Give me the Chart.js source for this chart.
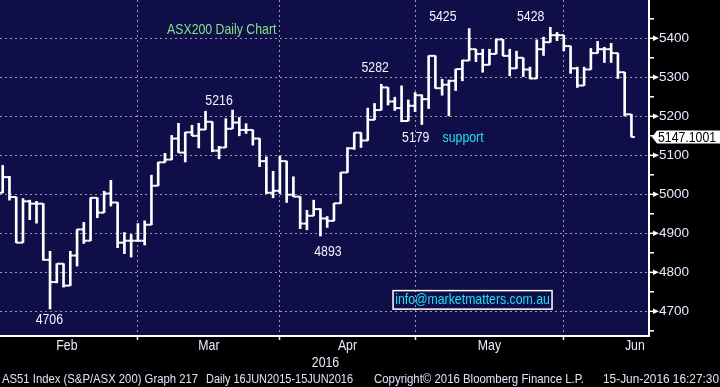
<!DOCTYPE html>
<html lang="en">
<head>
<meta charset="UTF-8">
<title>ASX200 Daily Chart</title>
<script src="https://cdn.jsdelivr.net/npm/chart.js"></script>
<style>
    html, body { margin: 0; padding: 0; background: #000; }
    canvas { display: block; }
</style>
</head>
<body>
<canvas id="chartContainer" width="720" height="387"></canvas>

<script>
// AS51 daily bars, Feb - 15 Jun 2016
var opens = [5004, 5044, 4993, 4876, 4982, 4976, 4976, 4832, 4775, 4822,
             4766, 4843, 4910, 4881, 4991, 4953, 5002, 4979, 4876, 4881,
             4881, 4881, 4922, 5022, 5082, 5089, 5143, 5107, 5159, 5150,
             5166, 5186, 5112, 5120, 5168, 5184, 5165, 5165, 5143, 5085,
             5004, 5009, 5085, 4999, 4994, 4925, 4945, 4962, 4938, 4932,
             4977, 5056, 5118, 5158, 5138, 5191, 5216, 5274, 5238, 5221,
             5188, 5227, 5254, 5244, 5355, 5272, 5281, 5291, 5321, 5343,
             5372, 5360, 5332, 5360, 5397, 5355, 5323, 5350, 5320, 5297,
             5372, 5390, 5408, 5408, 5380, 5323, 5279, 5320, 5362, 5372,
             5372, 5362, 5313, 5205];
var highs = [5074, 5046, 4993, 4989, 4985, 4982, 4976, 4854, 4822, 4822,
             4854, 4910, 4928, 4991, 4991, 5008, 5036, 4979, 4902, 4897,
             4925, 4932, 5049, 5082, 5105, 5151, 5182, 5159, 5177, 5182,
             5213, 5186, 5123, 5194, 5216, 5197, 5181, 5165, 5143, 5096,
             5059, 5097, 5085, 5045, 4994, 4959, 4985, 4963, 4943, 4977,
             5056, 5120, 5158, 5158, 5221, 5233, 5282, 5274, 5249, 5278,
             5242, 5261, 5255, 5355, 5355, 5295, 5293, 5321, 5344, 5425,
             5372, 5372, 5372, 5397, 5397, 5372, 5367, 5350, 5326, 5396,
             5403, 5428, 5415, 5408, 5380, 5326, 5326, 5374, 5392, 5377,
             5387, 5362, 5313, 5205];
var lows = [5004, 4985, 4876, 4876, 4935, 4926, 4831, 4706, 4773, 4762,
            4766, 4816, 4874, 4881, 4940, 4953, 4970, 4863, 4848, 4839,
            4880, 4870, 4922, 5022, 5082, 5089, 5107, 5083, 5150, 5119,
            5166, 5109, 5091, 5120, 5168, 5150, 5156, 5126, 5071, 5002,
            4991, 5002, 4979, 4994, 4912, 4909, 4945, 4893, 4915, 4932,
            4977, 5056, 5115, 5120, 5138, 5191, 5216, 5229, 5215, 5186,
            5188, 5212, 5179, 5220, 5272, 5254, 5201, 5266, 5291, 5343,
            5340, 5313, 5332, 5360, 5355, 5304, 5323, 5302, 5296, 5297,
            5356, 5390, 5394, 5368, 5310, 5274, 5279, 5320, 5362, 5338,
            5338, 5297, 5201, 5147];
var closes = [5044, 4993, 4876, 4982, 4976, 4976, 4832, 4775, 4822, 4766,
              4843, 4910, 4881, 4991, 4953, 5002, 4979, 4876, 4881, 4881,
              4881, 4922, 5022, 5082, 5089, 5143, 5107, 5159, 5150, 5166,
              5186, 5112, 5120, 5168, 5184, 5165, 5165, 5143, 5085, 5004,
              5009, 5085, 4999, 4994, 4925, 4945, 4962, 4938, 4932, 4977,
              5056, 5118, 5158, 5138, 5191, 5216, 5274, 5238, 5221, 5188,
              5227, 5254, 5244, 5355, 5272, 5281, 5291, 5321, 5343, 5372,
              5360, 5332, 5360, 5397, 5355, 5323, 5350, 5320, 5297, 5372,
              5390, 5408, 5408, 5380, 5323, 5279, 5320, 5362, 5372, 5372,
              5362, 5313, 5205, 5147.1001];

var monthNames = ['Feb', 'Mar', 'Apr', 'May', 'Jun'];
var monthStarts = [-1, 20, 41, 61, 83, 104];   // bar index where each month begins
var yTicks = [4700, 4800, 4900, 5000, 5100, 5200, 5300, 5400];
var lastPrice = 5147.1001;

// hand placed notes on the screen (bar index / price level)
var notes = [
    {text: 'ASX200 Daily Chart', bar: 32.4, price: 5421, color: '#86e08a'},
    {text: '5216', bar: 32.0, price: 5239},
    {text: '5282', bar: 55.1, price: 5323},
    {text: '5425', bar: 65.1, price: 5455},
    {text: '5428', bar: 78.1, price: 5455},
    {text: '5179', bar: 61.1, price: 5145},
    {text: 'support', bar: 68.1, price: 5145, color: '#1ee2ea'},
    {text: '4893', bar: 48.1, price: 4852},
    {text: '4706', bar: 6.9, price: 4678}
];
var email = {text: 'info@marketmatters.com.au', bar: 69.5, price: 4730};

var FONT = "'Liberation Sans', Arial, sans-serif";
var SQUEEZE = 0.82;   // the terminal font is a narrow one

function txt(c, s, x, y, color, size, align, maxW) {
    c.save();
    c.font = size + 'px ' + FONT;
    c.fillStyle = color;
    c.textAlign = align || 'center';
    c.textBaseline = 'middle';
    if (maxW) {
        c.fillText(s, x, y, maxW);
    } else {
        c.translate(x, y);
        c.scale(SQUEEZE, 1);
        c.fillText(s, 0, 0);
    }
    c.restore();
}

var bloombergLook = {
    id: 'bloombergLook',
    beforeDraw: function(chart) {
        var c = chart.ctx, a = chart.chartArea;
        c.save();
        c.fillStyle = '#000';
        c.fillRect(0, 0, chart.width, chart.height);
        c.fillStyle = '#0f0e48';
        c.fillRect(a.left, a.top, a.right - a.left, a.bottom - a.top);
        c.restore();
    },
    afterDatasetsDraw: function(chart) {
        // open tick on the left, close tick on the right
        var c = chart.ctx, x = chart.scales.x, y = chart.scales.y;
        var half = (x.getPixelForValue(1) - x.getPixelForValue(0)) / 2;
        c.save();
        c.fillStyle = '#fff';
        for (var i = 0; i < closes.length; i++) {
            var px = x.getPixelForValue(i);
            c.fillRect(px - half, y.getPixelForValue(opens[i]) - 1, half, 2);
            c.fillRect(px, y.getPixelForValue(closes[i]) - 1, half, 2);
        }
        c.restore();
    },
    afterDraw: function(chart) {
        var c = chart.ctx, x = chart.scales.x, y = chart.scales.y, a = chart.chartArea;
        c.save();

        // right axis: arrow marks on the hundreds, short marks on the fifties
        c.fillStyle = '#fff';
        yTicks.forEach(function(v, k) {
            var py = y.getPixelForValue(v);
            c.fillRect(a.right, py - 0.75, 5, 1.5);
            c.beginPath();
            c.moveTo(a.right + 4, py - 2.8);
            c.lineTo(a.right + 10, py);
            c.lineTo(a.right + 4, py + 2.8);
            c.closePath();
            c.fill();
            var minors = k === 0 ? [v - 50, v + 50] : [v + 50];
            minors.forEach(function(m) {
                c.fillRect(a.right, y.getPixelForValue(m) - 0.75, 5, 1.5);
            });
        });

        // last price tag
        var ly = y.getPixelForValue(lastPrice);
        c.fillStyle = '#fff';
        c.beginPath();
        c.moveTo(a.right + 3, ly);
        c.lineTo(a.right + 8, ly - 6.5);
        c.lineTo(chart.width, ly - 6.5);
        c.lineTo(chart.width, ly + 6.5);
        c.lineTo(a.right + 8, ly + 6.5);
        c.closePath();
        c.fill();
        txt(c, lastPrice.toFixed(4), a.right + 9, ly + 0.5, '#000', 15, 'left');

        // month labels centred in each month, year under them
        for (var i = 0; i < monthNames.length; i++) {
            var mid = (monthStarts[i] + monthStarts[i + 1]) / 2;
            txt(c, monthNames[i], x.getPixelForValue(mid), a.bottom + 10, '#e8ecff', 15);
        }
        txt(c, '2016', (a.left + a.right) / 2 + 1, a.bottom + 26.5, '#e8ecff', 15);

        // footer line
        var fy = a.bottom + 43;
        txt(c, 'AS51 Index (S&P/ASX 200) Graph 217', 2, fy, '#dfe4f5', 13, 'left', 196);
        txt(c, 'Daily 16JUN2015-15JUN2016', 206, fy, '#dfe4f5', 13, 'left', 147);
        txt(c, 'Copyright\u00a9 2016 Bloomberg Finance L.P.', 374, fy, '#dfe4f5', 13, 'left', 210);
        txt(c, '15-Jun-2016 16:27:30', 603, fy, '#dfe4f5', 13, 'left', 116);

        // notes
        notes.forEach(function(n) {
            txt(c, n.text, x.getPixelForValue(n.bar), y.getPixelForValue(n.price),
                n.color || '#f2f5ff', 15);
        });

        // contact box
        var ex = x.getPixelForValue(email.bar), ey = y.getPixelForValue(email.price);
        c.strokeStyle = '#fff';
        c.lineWidth = 1.5;
        c.strokeRect(ex - 79.5, ey - 9, 159, 18.5);
        txt(c, email.text, ex, ey + 0.5, '#1ee2ea', 15);

        c.restore();
    }
};

var ctx = document.getElementById('chartContainer').getContext('2d');
var myChart = new Chart(ctx, {
    type: 'bar',
    data: {
        datasets: [{
            label: 'AS51 Index',
            data: highs.map(function(h, i) { return {x: i, y: [lows[i], h]}; }),
            backgroundColor: '#ffffff',
            borderWidth: 0,
            barThickness: 2
        }]
    },
    options: {
        responsive: false,
        animation: false,
        events: [],
        layout: {padding: 0},
        plugins: {legend: {display: false}, tooltip: {enabled: false}},
        scales: {
            x: {
                type: 'linear',
                min: -0.4,
                max: 95.6,
                offset: false,
                afterBuildTicks: function(s) {
                    s.ticks = monthStarts.slice(1, 5).map(function(v) { return {value: v}; });
                },
                afterFit: function(s) { s.height = 51; s.paddingLeft = 0; s.paddingRight = 0; },
                ticks: {display: false},
                grid: {color: '#9b9bb0', lineWidth: 1, offset: false, drawTicks: true,
                       tickLength: 4, tickColor: '#ffffff', tickWidth: 1.5},
                border: {color: '#ffffff', width: 2, dash: [2, 3]}
            },
            y: {
                position: 'right',
                min: 4636.7,
                max: 5498.2,
                afterBuildTicks: function(s) {
                    s.ticks = yTicks.map(function(v) { return {value: v}; });
                },
                afterFit: function(s) { s.width = 71; s.paddingTop = 0; s.paddingBottom = 0; },
                ticks: {
                    color: '#e8ecff',
                    padding: 10,
                    font: {family: FONT, size: 13.5},
                    callback: function(v) { return String(v); }
                },
                grid: {color: '#9b9bb0', lineWidth: 1, drawTicks: false},
                border: {color: '#ffffff', width: 2, dash: [2, 3]}
            }
        }
    },
    plugins: [bloombergLook]
});
</script>
</body>
</html>
